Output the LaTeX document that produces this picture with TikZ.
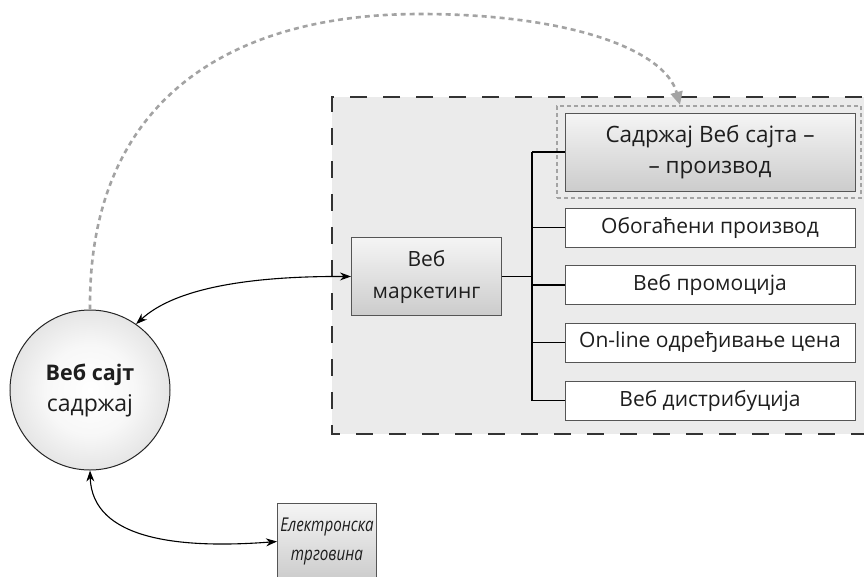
\documentclass[tikz,border=0pt]{standalone}
\usepackage{fontspec}
\setmainfont{Open Sans}
\newfontfamily\ecfont{Open Sans}[FakeStretch=0.8]
\usetikzlibrary{arrows.meta}
\definecolor{panelfill}{HTML}{EBEBEB}
\definecolor{dotgray}{HTML}{A3A3A3}
\definecolor{boxline}{HTML}{555555}
\definecolor{txt}{HTML}{1E1E1E}
\pgfdeclareradialshading{ballshade}{\pgfpoint{0bp}{0bp}}{%
  color(0bp)=(white); color(14bp)=(white!97!black); color(28bp)=(white!88!black);
  color(40bp)=(white!77!black); color(50bp)=(white!66!black)}
\tikzset{
  every node/.style={text=txt},
  shadedbox/.style={draw=boxline, line width=1pt, top color=white!96!black, bottom color=white!80!black, align=center, inner sep=0pt},
  plainbox/.style={draw=boxline, line width=1pt, fill=white, minimum width=290pt, minimum height=39pt, inner sep=0pt, font=\fontsize{21}{25}\selectfont},
  link/.style={line width=1.1pt, black},
  dblarrow/.style={line width=1.1pt, {Stealth[length=11pt,width=8pt]}-{Stealth[length=11pt,width=8pt]}},
}
\begin{document}
\begin{tikzpicture}[x=1pt,y=-1pt]
\useasboundingbox (0,0) rectangle (864,576);
% panel
\fill[panelfill] (332,97) rectangle (864,434);
\draw[line width=1.3pt, black!80, dash pattern=on 17pt off 16pt, dash phase=-2pt]
  (864,97) -- (332,97) -- (332,434) -- (864,434);
% nodes
\node[shadedbox, minimum width=290pt, minimum height=78pt, font=\fontsize{22.5}{31}\selectfont] (b0) at (710,152) {Садржај Веб сајта –\\– производ};
\node[draw=dotgray, line width=2.4pt, dash pattern=on 4pt off 3pt, minimum width=304pt, minimum height=92pt, inner sep=0pt] (frame) at (709,152) {};
\node[plainbox] (b1) at (710,227.5) {Обогаћени производ};
\node[plainbox] (b2) at (710,285) {Веб промоција};
\node[plainbox] (b3) at (710,342.5) {On-line одређивање цена};
\node[plainbox] (b4) at (710,400.5) {Веб дистрибуција};
\node[shadedbox, minimum width=150pt, minimum height=78pt, font=\fontsize{21}{32}\selectfont] (mk) at (426.5,276.5) {Веб\\маркетинг};
\node[circle, draw=black!85, line width=1pt, minimum size=160pt, inner sep=0pt, shading=ballshade, align=center, font=\fontsize{21.5}{31}\selectfont] (site) at (90,390) {\textbf{Веб сајт}\\{\fontsize{23}{31}\selectfont садржај}};
\node[shadedbox, minimum width=99pt, minimum height=76pt, font=\ecfont\fontsize{19}{29}\selectfont\itshape, anchor=north west] (ec) at (277,503) {Електронска\\трговина};
% tree
\coordinate (trunk) at (532,0);
\draw[link] (mk.east) -- (trunk |- mk.east);
\draw[link] (trunk |- b0.west) -- (trunk |- b4.west);
\foreach \b in {b0,b1,b2,b3,b4} \draw[link] (trunk |- \b.west) -- (\b.west);
% arrows
\draw[dblarrow] (site.55) .. controls (175,288) and (250,276) .. (mk.west);
\draw[dblarrow] (site.south) .. controls (92,540) and (180,549) .. (ec.west);
\draw[dotgray, line width=2.6pt, dash pattern=on 5pt off 4pt, -{Triangle[length=13pt,width=12pt]}]
  (site.north) .. controls (88,100) and (230,14) .. (420,14)
  .. controls (570,14) and (665,50) .. ([xshift=-29pt]frame.north);
\end{tikzpicture}
\end{document}
